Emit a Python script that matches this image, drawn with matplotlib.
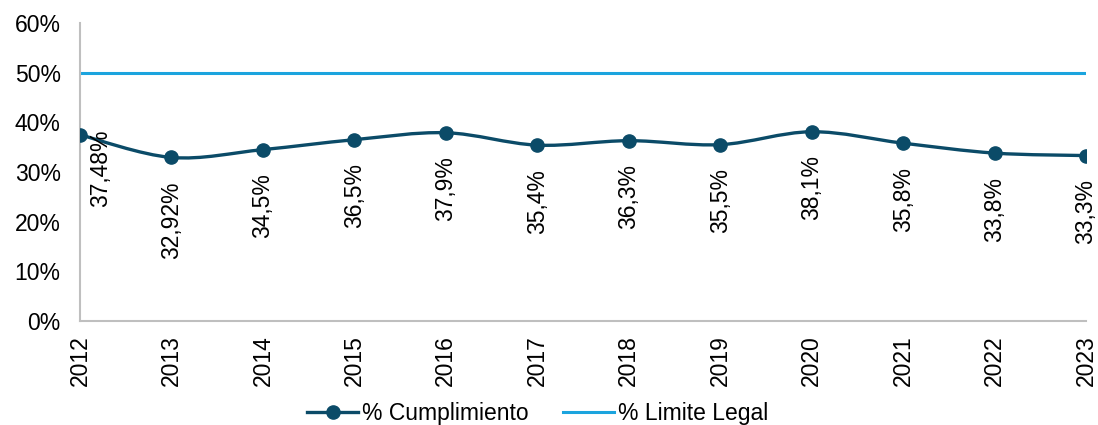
import matplotlib
matplotlib.use('Agg')
from matplotlib import pyplot as plt
from matplotlib.path import Path
from matplotlib.patches import PathPatch
from matplotlib.lines import Line2D

plt.rcParams['font.family'] = ['Liberation Sans', 'DejaVu Sans']

years = ['2012', '2013', '2014', '2015', '2016', '2017',
         '2018', '2019', '2020', '2021', '2022', '2023']
cumplimiento = [37.48, 32.92, 34.5, 36.5, 37.9, 35.4, 36.3, 35.5, 38.1, 35.8, 33.8, 33.3]
etiquetas = ['37,48%', '32,92%', '34,5%', '36,5%', '37,9%', '35,4%',
             '36,3%', '35,5%', '38,1%', '35,8%', '33,8%', '33,3%']
limite = [50] * len(years)

DARK = '#0b4b68'
LIGHT = '#1ba4de'
GRID = '#bfbfbf'
FS = 16.5


def smooth_path(xs, ys):
    # Excel-like smoothed line: cubic bezier through each point
    verts = [(xs[0], ys[0])]
    codes = [Path.MOVETO]
    n = len(xs)
    for i in range(n - 1):
        x0, y0 = (xs[i - 1], ys[i - 1]) if i > 0 else (xs[i], ys[i])
        x1, y1 = xs[i], ys[i]
        x2, y2 = xs[i + 1], ys[i + 1]
        x3, y3 = (xs[i + 2], ys[i + 2]) if i + 2 < n else (x2, y2)
        c1 = (x1 + (x2 - x0) / 6, y1 + (y2 - y0) / 6)
        c2 = (x2 - (x3 - x1) / 6, y2 - (y3 - y1) / 6)
        verts += [c1, c2, (x2, y2)]
        codes += [Path.CURVE4] * 3
    return Path(verts, codes)


fig = plt.figure(figsize=(10.98, 4.25), dpi=100)
ax = fig.add_axes([0.0729, 0.2447, 0.9162, 0.7013])

x = list(range(len(years)))
ax.plot(x, limite, color=LIGHT, lw=2.2, solid_capstyle='butt')
ax.add_patch(PathPatch(smooth_path(x, cumplimiento), facecolor='none',
                       edgecolor=DARK, lw=2.4))
ax.plot(x, cumplimiento, 'o', color=DARK, ms=9.5, zorder=5)

for i, (v, t) in enumerate(zip(cumplimiento, etiquetas)):
    if i == 0:
        ax.annotate(t, (i, v), xytext=(15, 4), textcoords='offset points',
                    rotation=90, ha='center', va='top', fontsize=FS)
    else:
        ax.annotate(t, (i, v), xytext=(0, -17), textcoords='offset points',
                    rotation=90, ha='center', va='top', fontsize=FS)

ax.set_xlim(0, len(years) - 1)
ax.set_ylim(0, 60)
ax.set_xticks(x)
ax.set_xticklabels(years, rotation=90, fontsize=FS)
ax.set_yticks(range(0, 61, 10))
ax.set_yticklabels([f'{v}%' for v in range(0, 61, 10)], fontsize=FS)
ax.tick_params(length=0, pad=10)
ax.tick_params(axis='y', pad=14)
for s in ['top', 'right']:
    ax.spines[s].set_visible(False)
for s in ['left', 'bottom']:
    ax.spines[s].set_color(GRID)
    ax.spines[s].set_linewidth(1.5)

handles = [Line2D([0], [0], color=DARK, lw=2.4, marker='o', ms=9.5),
           Line2D([0], [0], color=LIGHT, lw=2.2)]
fig.legend(handles, ['% Cumplimiento', '% Limite Legal'], loc='center',
           bbox_to_anchor=(0.49, 0.028), ncol=2, frameon=False, fontsize=FS,
           handlelength=2.2, columnspacing=1.5, handletextpad=0.2)

fig.savefig('out.png', dpi=100)
